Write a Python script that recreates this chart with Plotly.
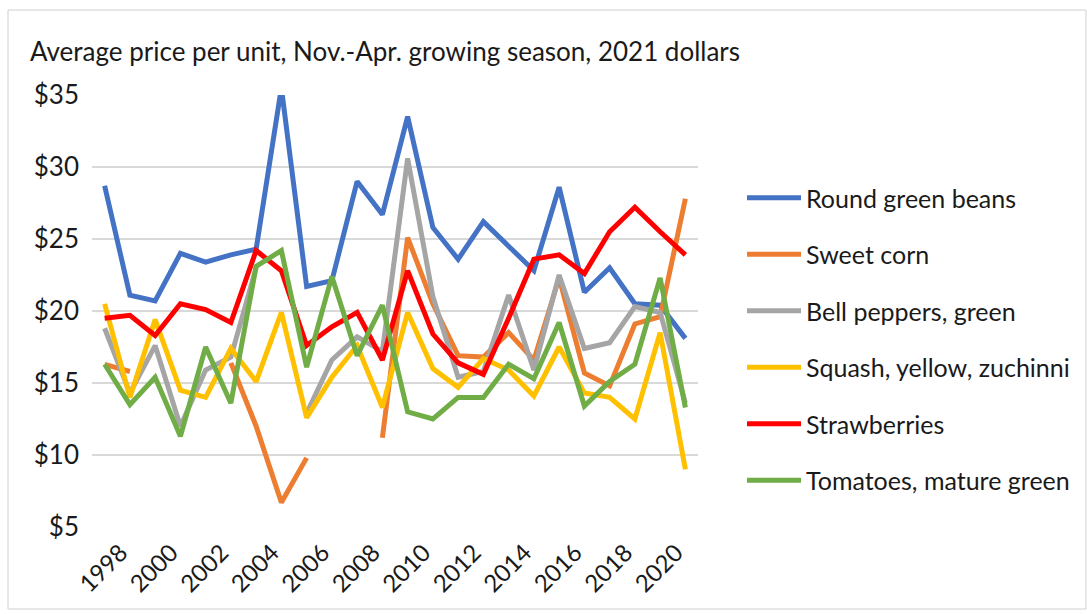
import plotly.graph_objects as go

# Growing-season years (Nov.-Apr.)
years = list(range(1998, 2022))

# Average price per unit, 2021 dollars (None = no data reported)
round_green_beans = [28.7, 21.1, 20.7, 24.0, 23.4, 23.9, 24.3, 35.5, 21.7, 22.1, 29.0, 26.7,
                     33.5, 25.8, 23.6, 26.2, 24.5, 22.8, 28.6, 21.3, 23.0, 20.5, 20.4, 18.1]
sweet_corn = [16.3, 15.8, None, None, None, 16.4, 12.0, 6.7, 9.8, None, None, 11.2,
              25.1, 20.5, 16.9, 16.8, 18.5, 16.6, 22.3, 15.7, 14.8, 19.1, 19.6, 27.8]
bell_peppers = [18.8, 14.3, 17.6, 12.0, 15.9, 16.8, 23.0, None, 12.9, 16.6, 18.2, 17.2,
                30.6, 21.0, 15.4, 15.8, 21.1, 15.9, 22.5, 17.4, 17.8, 20.3, 19.9, 13.6]
squash = [20.5, 14.0, 19.4, 14.5, 14.0, 17.4, 15.1, 19.9, 12.6, 15.4, 17.6, 13.3,
          19.9, 16.0, 14.7, 16.7, 15.9, 14.1, 17.5, 14.3, 14.0, 12.5, 18.5, 9.0]
strawberries = [19.5, 19.7, 18.3, 20.5, 20.1, 19.2, 24.2, 22.8, 17.6, 18.9, 19.9, 16.6,
                22.8, 18.4, 16.4, 15.6, 19.5, 23.6, 23.9, 22.6, 25.5, 27.2, 25.5, 23.9]
tomatoes = [16.3, 13.5, 15.4, 11.3, 17.5, 13.6, 23.1, 24.2, 16.1, 22.4, 16.9, 20.4,
            13.0, 12.5, 14.0, 14.0, 16.3, 15.3, 19.2, 13.4, 15.1, 16.3, 22.3, 13.3]

series_names = ["Round green beans", "Sweet corn", "Bell peppers, green",
                "Squash, yellow, zuchinni", "Strawberries", "Tomatoes, mature green"]
series_values = [round_green_beans, sweet_corn, bell_peppers, squash, strawberries, tomatoes]
series_colors = ["#4472C4", "#ED7D31", "#A5A5A5", "#FFC000", "#FF0000", "#70AD47"]

tick_years = list(range(1998, 2021, 2))
y_ticks = list(range(5, 40, 5))

FONT = "Lato"
TEXT = "#1a1a1a"

fig = go.Figure()
for name, vals, color in zip(series_names, series_values, series_colors):
    fig.add_trace(go.Scatter(
        x=years, y=vals, name=name, mode="lines",
        line=dict(color=color, width=5),
        connectgaps=False, legendgroup=name,
    ))

fig.update_layout(
    width=1087, height=614,
    margin=dict(l=92, r=389, t=95, b=87),
    paper_bgcolor="white", plot_bgcolor="white",
    font=dict(family=FONT, size=24, color=TEXT),
    title=dict(
        text="Average price per unit, Nov.-Apr. growing season, 2021 dollars",
        xref="container", yref="container",
        x=30 / 1087, y=1 - 52 / 614, xanchor="left", yanchor="middle",
        font=dict(family=FONT, size=26, color=TEXT),
    ),
    xaxis=dict(
        range=[1997.5, 2021.5], tickmode="array", tickvals=tick_years,
        ticktext=[str(y) for y in tick_years], tickangle=-45,
        showgrid=False, zeroline=False, showline=False, ticks="",
        ticklabelshift=16, ticklabelstandoff=6,
        tickfont=dict(family=FONT, size=24, color=TEXT),
    ),
    yaxis=dict(
        range=[5, 35], tickmode="array", tickvals=y_ticks,
        ticktext=["$" + str(v) for v in y_ticks],
        showgrid=True, gridcolor="#D9D9D9", gridwidth=1.5,
        zeroline=False, showline=False, ticks="", ticklabelstandoff=12,
        tickfont=dict(family=FONT, size=26, color=TEXT),
    ),
    legend=dict(
        xref="container", yref="container",
        x=742 / 1087, y=1 - 175 / 614, xanchor="left", yanchor="top",
        font=dict(family=FONT, size=25, color=TEXT),
        tracegroupgap=21, itemwidth=54, maxheight=520,
        bgcolor="rgba(0,0,0,0)",
    ),
    shapes=[dict(
        type="rect", xref="paper", yref="paper",
        x0=(8 - 92) / 606, x1=(1086 - 92) / 606,
        y0=(527 - 609) / 432, y1=(527 - 10) / 432,
        line=dict(color="#D0D0D0", width=1), layer="below",
    )],
)

fig.write_html("out.html")
